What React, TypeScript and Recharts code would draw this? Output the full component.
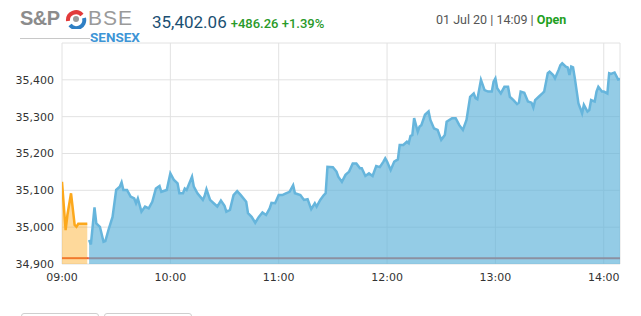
import React from "react";
import { Area, AreaChart, CartesianGrid, ReferenceLine, XAxis, YAxis } from "recharts";

// pre-open session (orange)
const PRE_TIMES = ["09:00", "09:02", "09:03", "09:05", "09:07", "09:08", "09:09", "09:14"];
const PRE_VALUES = [35123, 34992, 35033, 35092, 35006, 35001, 35009, 35009];

// normal session (blue)
const MAIN_TIMES = [
  "09:15", "09:16", "09:18", "09:19", "09:21", "09:23", "09:24", "09:26", "09:28", "09:30", "09:32", "09:33", "09:34",
  "09:36", "09:38", "09:40", "09:41", "09:42", "09:44", "09:46", "09:48", "09:50", "09:52", "09:54", "09:55", "09:58",
  "10:00", "10:02", "10:04", "10:05", "10:07", "10:08", "10:09", "10:12", "10:13", "10:15", "10:18", "10:19", "10:20",
  "10:22", "10:24", "10:26", "10:28", "10:30", "10:31", "10:33", "10:35", "10:37", "10:39", "10:42", "10:43", "10:45",
  "10:47", "10:49", "10:51", "10:53", "10:55", "10:56", "10:58",
  "11:00", "11:02", "11:04", "11:06", "11:08", "11:09", "11:12", "11:14", "11:16", "11:18", "11:20", "11:21", "11:23",
  "11:25", "11:26", "11:27", "11:30", "11:32", "11:33", "11:35", "11:37", "11:39", "11:41", "11:43", "11:45", "11:46",
  "11:48", "11:50", "11:52", "11:54", "11:56", "11:58", "11:59",
  "12:00", "12:02", "12:04", "12:06", "12:07", "12:09", "12:11", "12:12", "12:13", "12:14", "12:15", "12:17", "12:18",
  "12:19", "12:21", "12:23", "12:24", "12:26", "12:28", "12:30", "12:32", "12:33", "12:36", "12:38", "12:40", "12:42",
  "12:44", "12:46", "12:48", "12:49", "12:50", "12:52", "12:54", "12:56", "12:58", "12:59",
  "13:00", "13:01", "13:03", "13:05", "13:07", "13:08", "13:10", "13:12", "13:13", "13:14", "13:16", "13:18", "13:20",
  "13:21", "13:22", "13:24", "13:26", "13:27", "13:29", "13:30", "13:32", "13:33", "13:35", "13:36", "13:37", "13:39",
  "13:40", "13:41", "13:42", "13:43", "13:44", "13:46", "13:47", "13:48", "13:49", "13:51", "13:52", "13:53", "13:55",
  "13:56", "13:57", "13:59",
  "14:00", "14:02", "14:03", "14:04", "14:06", "14:08", "14:09",
];
const MAIN_VALUES = [
  34965, 34953, 35054, 35010, 35001, 34960, 34962, 34997, 35028, 35101, 35110, 35122, 35101,
  35101, 35083, 35078, 35065, 35078, 35042, 35056, 35051, 35069, 35105, 35112, 35096, 35101,
  35146, 35128, 35119, 35092, 35092, 35105, 35101, 35137, 35110, 35092, 35074, 35085, 35103,
  35074, 35065, 35056, 35072, 35058, 35042, 35047, 35087, 35098, 35087, 35069, 35038, 35028,
  35012, 35028, 35040, 35033, 35051, 35066, 35065,
  35087, 35087, 35092, 35096, 35114, 35092, 35087, 35074, 35076, 35049, 35065, 35056, 35074,
  35087, 35092, 35164, 35163, 35151, 35137, 35123, 35142, 35151, 35173, 35173, 35160, 35160,
  35139, 35146, 35139, 35166, 35163, 35178, 35187,
  35178, 35155, 35178, 35184, 35223, 35223, 35232, 35228, 35248, 35250, 35296, 35259, 35273,
  35277, 35305, 35314, 35291, 35268, 35264, 35237, 35250, 35286, 35296, 35296, 35277, 35264,
  35291, 35354, 35363, 35350, 35347, 35400, 35372, 35368, 35368, 35395,
  35404, 35377, 35363, 35381, 35381, 35354, 35345, 35334, 35338, 35368, 35365, 35341, 35338,
  35325, 35345, 35354, 35363, 35368, 35418, 35422, 35413, 35404, 35427, 35440, 35445, 35436,
  35434, 35413, 35436, 35434, 35404, 35336, 35323, 35309, 35332, 35314, 35318, 35345, 35341,
  35368, 35381, 35368,
  35368, 35363, 35418, 35416, 35420, 35401, 35402.06,
];

const LAST = 35402.06;
const CHANGE = 486.26;
const PREV_CLOSE = LAST - CHANGE;

const Y_TICKS = [34900, 35000, 35100, 35200, 35300, 35400, 35500];
const X_TICKS = ["09:00", "10:00", "11:00", "12:00", "13:00", "14:00"];

const toMin = (t: string) => {
  const [h, m] = t.split(":").map(Number);
  return (h - 9) * 60 + m;
};
const fromMin = (v: number) => `${String(9 + Math.floor(v / 60)).padStart(2, "0")}:${String(v % 60).padStart(2, "0")}`;

const data = [
  ...PRE_TIMES.map((t, i) => ({ t: toMin(t), pre: PRE_VALUES[i] })),
  ...MAIN_TIMES.slice(0, MAIN_VALUES.length).map((t, i) => ({ t: toMin(t), main: MAIN_VALUES[i] })),
];
const preEnd = toMin(PRE_TIMES[PRE_TIMES.length - 1]);
const lastMin = toMin(MAIN_TIMES[MAIN_TIMES.length - 1]);

const tickStyle = { fontFamily: "'DejaVu Sans', Verdana, sans-serif", fontSize: 11, fill: "#333" };

export default function App() {
  return (
    <div style={{ position: "absolute", left: 0, top: 0, width: 641, height: 316, background: "#fff", fontFamily: "Roboto, sans-serif", overflow: "hidden" }}>
      {/* logo */}
      <div style={{ position: "absolute", left: 20, top: 8, fontSize: 20, lineHeight: "20px", fontWeight: 700, color: "#8c8c8c", fontFamily: "Arial, 'Liberation Sans', sans-serif", letterSpacing: -0.5 }}>
        S&amp;P
      </div>
      <svg style={{ position: "absolute", left: 64, top: 9 }} width={24} height={20} viewBox="0 0 24 20">
        <path d="M4 12 A8 8 0 0 1 18 6" stroke="#e23b3b" strokeWidth={4} fill="none" />
        <path d="M20 9 A8 8 0 0 1 6 16" stroke="#2f7fc4" strokeWidth={4} fill="none" />
        <circle cx={12} cy={10} r={3} fill="#9a9a9a" />
      </svg>
      <div style={{ position: "absolute", left: 88, top: 7, fontSize: 21, lineHeight: "21px", fontWeight: 400, color: "#9a9a9a", fontFamily: "Arial, 'Liberation Sans', sans-serif", letterSpacing: 1 }}>
        BSE
      </div>
      <div style={{ position: "absolute", left: 20, top: 38, width: 70, height: 1, background: "#c8c8c8" }} />
      <div style={{ position: "absolute", left: 90, top: 30, fontSize: 13.5, lineHeight: "14px", fontWeight: 700, color: "#3d95d6", fontFamily: "Roboto, sans-serif" }}>
        SENSEX
      </div>
      {/* price */}
      <div style={{ position: "absolute", left: 152, top: 12, fontSize: 17, color: "#1b4f72", whiteSpace: "nowrap" }}>
        {LAST.toLocaleString("en-US", { minimumFractionDigits: 2 })}
        <span style={{ fontSize: 13, fontWeight: 500, color: "#2a9a2a", marginLeft: 4 }}>
          +{CHANGE.toFixed(2)} +{((CHANGE / PREV_CLOSE) * 100).toFixed(2)}%
        </span>
      </div>
      <div style={{ position: "absolute", left: 436, top: 12, fontSize: 12.5, color: "#555", whiteSpace: "nowrap" }}>
        01 Jul 20 | 14:09 | <span style={{ color: "#1ea01e", fontWeight: 700 }}>Open</span>
      </div>

      <div style={{ position: "absolute", left: 0, top: 0 }}>
        <AreaChart width={641} height={300} data={data} margin={{ top: 43, right: 21, bottom: 6, left: 0 }}>
          <CartesianGrid stroke="#e2e2e2" strokeWidth={1} />
          <XAxis
            type="number"
            dataKey="t"
            domain={[0, lastMin]}
            ticks={X_TICKS.map(toMin)}
            tickFormatter={fromMin}
            axisLine={false}
            tickLine={false}
            tickMargin={3}
            height={30}
            tick={tickStyle}
            allowDataOverflow
          />
          <YAxis
            domain={[Y_TICKS[0], Y_TICKS[Y_TICKS.length - 1]]}
            ticks={Y_TICKS}
            tickFormatter={(v: number) => (v === Y_TICKS[Y_TICKS.length - 1] ? "" : v.toLocaleString("en-US"))}
            axisLine={false}
            tickLine={false}
            width={62}
            tick={tickStyle}
            allowDataOverflow
          />
          <ReferenceLine
            segment={[{ x: 0, y: PREV_CLOSE }, { x: preEnd + 0.5, y: PREV_CLOSE }]}
            stroke="#e8553a"
            strokeWidth={2}
            zIndex={50}
          />
          <ReferenceLine
            segment={[{ x: preEnd + 0.5, y: PREV_CLOSE }, { x: lastMin, y: PREV_CLOSE }]}
            stroke="#e8553a"
            strokeWidth={2}
            zIndex={50}
          />
          <Area
            type="linear"
            dataKey="pre"
            stroke="#fca81c"
            strokeWidth={2.5}
            fill="#fca81c"
            fillOpacity={0.44}
            baseValue="dataMin"
            isAnimationActive={false}
            dot={false}
            activeDot={false}
          />
          <Area
            type="linear"
            dataKey="main"
            stroke="#66b5dc"
            strokeWidth={2.5}
            fill="#5ab0d8"
            fillOpacity={0.65}
            baseValue="dataMin"
            isAnimationActive={false}
            dot={false}
            activeDot={false}
          />
        </AreaChart>
      </div>

      {/* buttons below (cut off) */}
      <div style={{ position: "absolute", left: 21, top: 313, width: 76, height: 10, border: "1px solid #cfcfcf", borderRadius: 3 }} />
      <div style={{ position: "absolute", left: 104, top: 313, width: 86, height: 10, border: "1px solid #cfcfcf", borderRadius: 3 }} />
    </div>
  );
}
